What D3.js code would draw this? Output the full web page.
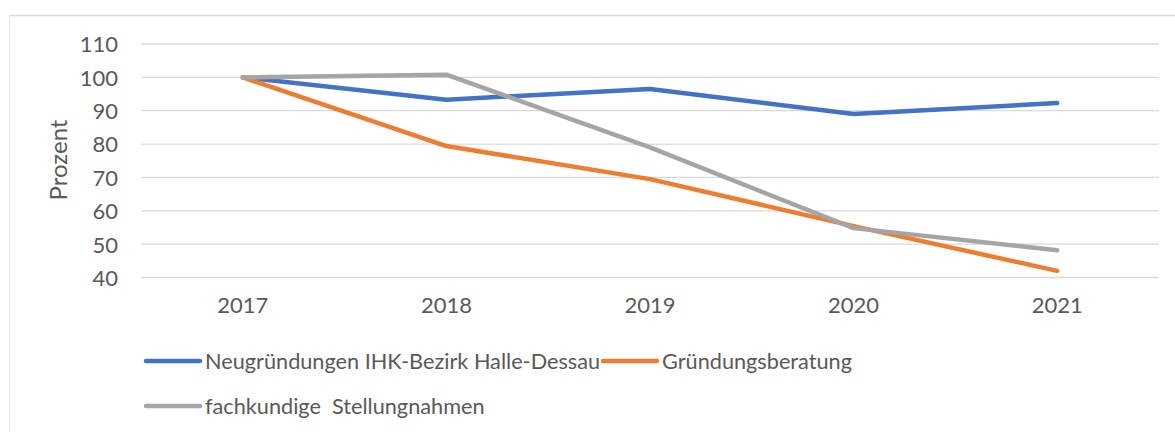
<!DOCTYPE html>
<html>
<head>
<meta charset="utf-8">
<script src="https://cdn.jsdelivr.net/npm/d3@7"></script>
<style>
  body { margin: 0; background: #fff; }
  svg text { font-family: Lato, "Open Sans", sans-serif; fill: #595959; }
</style>
</head>
<body>
<svg id="chart" width="1175" height="432"></svg>
<script>
const years = ['2017', '2018', '2019', '2020', '2021'];
const neugruendungen = [100, 93.3, 96.5, 89.0, 92.3];
const gruendungsberatung = [100, 79.4, 69.5, 55.4, 42.0];
const stellungnahmen = [100, 100.8, 79.0, 54.8, 48.2];
const yTicks = [40, 50, 60, 70, 80, 90, 100, 110];

const series = [
  { name: 'Neugründungen IHK-Bezirk Halle-Dessau', values: neugruendungen, color: '#4472C4' },
  { name: 'Gründungsberatung', values: gruendungsberatung, color: '#ED7D31' },
  { name: 'fachkundige\u00a0 Stellungnahmen', values: stellungnahmen, color: '#A5A5A5' }
];

const FONT = 'Lato, "Open Sans", sans-serif';
const svg = d3.select('#chart');

// outer frame (top + left only visible)
svg.append('line').attr('x1', 9).attr('x2', 1175).attr('y1', 15.5).attr('y2', 15.5)
  .attr('stroke', '#d9d9d9').attr('stroke-width', 1.5);
svg.append('line').attr('x1', 9.5).attr('x2', 9.5).attr('y1', 15).attr('y2', 432)
  .attr('stroke', '#e6e6e6').attr('stroke-width', 1);

const x = d3.scaleBand().domain(years).range([141, 1159]);
const y = d3.scaleLinear().domain([40, 110]).range([277.5, 44]);

// gridlines
svg.append('g').selectAll('line').data(yTicks).join('line')
  .attr('x1', 141).attr('x2', 1159)
  .attr('y1', d => y(d)).attr('y2', d => y(d))
  .attr('stroke', '#d9d9d9').attr('stroke-width', 1.3);

// y axis
const yAxis = svg.append('g').attr('transform', 'translate(118,0)')
  .call(d3.axisLeft(y).tickValues(yTicks).tickSize(0).tickPadding(0));
yAxis.select('.domain').remove();
yAxis.attr('font-family', FONT).attr('font-size', 22);
yAxis.selectAll('text').attr('dy', '0.36em').attr('fill', '#595959');

// x axis
const xAxis = svg.append('g').attr('transform', 'translate(0,297)')
  .call(d3.axisBottom(x).tickSize(0).tickPadding(0));
xAxis.select('.domain').remove();
xAxis.attr('font-family', FONT).attr('font-size', 22);
xAxis.selectAll('text').attr('dy', '0.71em').attr('fill', '#595959');

// y title
svg.append('text')
  .attr('transform', 'translate(67,160) rotate(-90)')
  .attr('text-anchor', 'middle')
  .attr('font-size', 24)
  .text('Prozent');

const line = d3.line()
  .x((d, i) => x(years[i]) + x.bandwidth() / 2)
  .y(d => y(d));

svg.append('g').selectAll('path').data(series).join('path')
  .attr('d', d => line(d.values))
  .attr('fill', 'none')
  .attr('stroke', d => d.color)
  .attr('stroke-width', 4.5)
  .attr('stroke-linecap', 'round')
  .attr('stroke-linejoin', 'round');

// legend
const legendPos = [
  { x: 146, y: 361 },
  { x: 603, y: 361 },
  { x: 146, y: 406 }
];
const legend = svg.append('g').selectAll('g').data(series).join('g')
  .attr('transform', (d, i) => `translate(${legendPos[i].x},${legendPos[i].y})`);
legend.append('line')
  .attr('x1', 0).attr('x2', 54).attr('y1', 0).attr('y2', 0)
  .attr('stroke', d => d.color).attr('stroke-width', 4.5).attr('stroke-linecap', 'round');
legend.append('text')
  .attr('x', 59).attr('dy', '0.36em')
  .attr('font-size', 21.7)
  .text(d => d.name);
</script>
</body>
</html>
